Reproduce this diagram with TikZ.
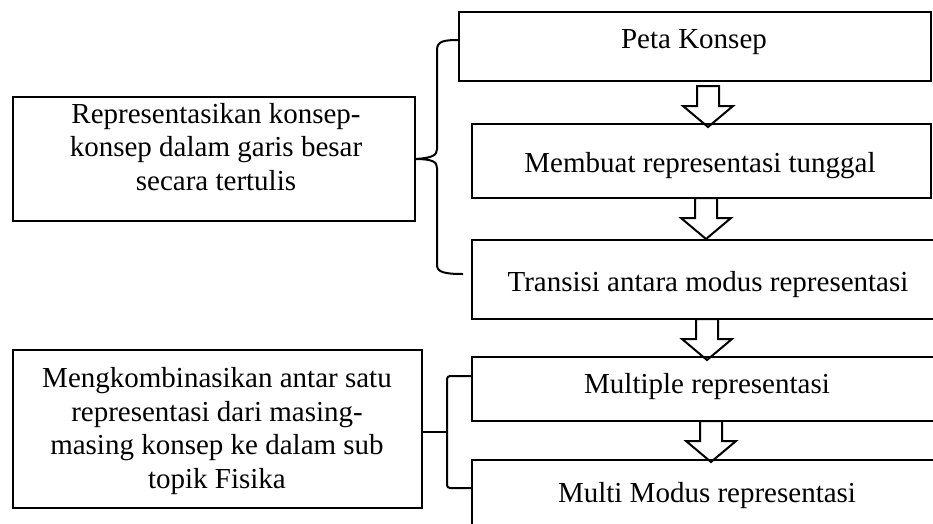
\documentclass[tikz,border=0pt]{standalone}
\usepackage{fontspec}
\setmainfont{Liberation Serif}
\usetikzlibrary{calc}
\begin{document}
\begin{tikzpicture}[x=1pt,y=-1pt,
  box/.style={draw, line width=2pt, rectangle, inner sep=0pt, outer sep=0pt, anchor=north west},
  txt/.style={font=\fontsize{29}{33.5}\selectfont, inner sep=0pt, anchor=base, align=center},
  brace/.style={line width=2pt, line cap=butt, line join=round},
  downarrow/.pic={\draw[line width=2pt, line join=miter]
      (-11,0) -- (11,0) -- (11,20) -- (25,20) -- (0,41) -- (-25,20) -- (-11,20) -- cycle;}
]
\useasboundingbox (0,0) rectangle (933,523);
\fill[white] (0,0) rectangle (933,523);

% right-hand column of steps
\node[box, minimum width=472pt, minimum height=69pt] (peta)     at (459,12)  {};
\node[box, minimum width=459pt, minimum height=74pt] (membuat)  at (472,124) {};
\node[box, minimum width=470pt, minimum height=79pt] (transisi) at (472,240) {};
\node[box, minimum width=470pt, minimum height=64pt] (multiple) at (472,357) {};
\node[box, minimum width=470pt, minimum height=75pt] (multi)    at (472,460) {};

\node[txt] (petaT)     at (694,48)  {Peta Konsep};
\node[txt] (membuatT)  at (700,172) {Membuat representasi tunggal};
\node[txt] (transisiT) at (708,291) {Transisi antara modus representasi};
\node[txt] (multipleT) at (707,393) {Multiple representasi};
\node[txt] (multiT)    at (707,502) {Multi Modus representasi};

% left-hand summary boxes (text anchored on the baseline of the last line)
\node[box, minimum width=402pt, minimum height=124pt] (rep)  at (13,97)  {};
\node[box, minimum width=409pt, minimum height=158pt] (meng) at (13,350) {};

\node[txt] (repT)  at (216,190) {Representasikan konsep-\\konsep dalam garis besar\\secara tertulis};
\node[txt] (mengT) at (217,488) {Mengkombinasikan antar satu\\representasi dari masing-\\masing konsep ke dalam sub\\topik Fisika};

% block arrows between the steps
\path ($(peta.south)+(13,5)$)    pic {downarrow};
\path ($(membuat.south)+(4.5,0)$) pic {downarrow};
\path (transisi.south)            pic {downarrow};
\path ($(multiple.south)+(4,0)$)  pic {downarrow};

% upper brace
\draw[brace] ($(peta.west)+(0,-6.5)$) .. controls (444,40) and (437,41) .. (437,50)
  -- (437,149) .. controls (437,155) and (433,158) .. (rep.east)
  .. controls (433,159) and (437,162) .. (437,168)
  -- (437,265) .. controls (437,272) and (444,274) .. (463,274);

% lower brace
\coordinate (b2top) at ($(multiple.west)+(0,-13)$);
\coordinate (b2bot) at (multi.west |- 0,488);
\coordinate (b2tip) at (447,432);
\draw[brace, rounded corners=3pt] (b2top) -- (447,376) -- (447,488) -- (b2bot);
\draw[brace] (meng.east |- b2tip) -- (b2tip);
\end{tikzpicture}
\end{document}
